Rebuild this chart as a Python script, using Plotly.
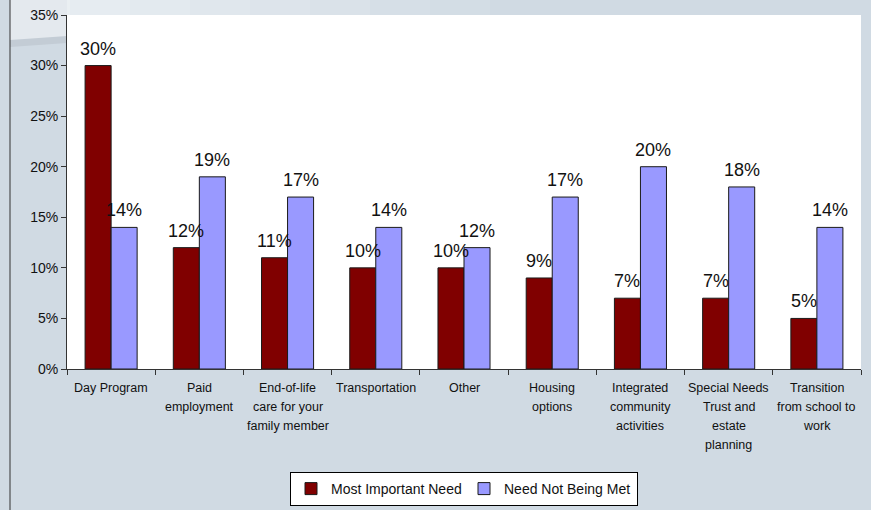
import plotly.graph_objects as go

categories = [
    "Day Program",
    "Paid<br>employment",
    "End-of-life<br>care for your<br>family member",
    "Transportation",
    "Other",
    "Housing<br>options",
    "Integrated<br>community<br>activities",
    "Special Needs<br>Trust and<br>estate<br>planning",
    "Transition<br>from school to<br>work",
]
most_important = [30, 12, 11, 10, 10, 9, 7, 7, 5]
not_being_met = [14, 19, 17, 14, 12, 17, 20, 18, 14]
y_ticks = [0, 5, 10, 15, 20, 25, 30, 35]

W, H = 871, 510
ML, MR, MT, MB = 67, 10, 15, 141
PW, PH = W - ML - MR, H - MT - MB
BARGAP = 0.41


def px_x(x):
    return (x - ML) / PW


def px_y(y):
    return (H - MB - y) / PH


series = [
    ("Most Important Need", most_important, "#800000"),
    ("Need Not Being Met", not_being_met, "#9999FF"),
]

fig = go.Figure()
for name, values, color in series:
    fig.add_trace(go.Bar(
        name=name,
        x=categories,
        y=[v / 100 for v in values],
        marker=dict(color=color, line=dict(color="#1a1a1a", width=1)),
    ))

annotations = []

# value labels above each bar, lifted a little off the bar top
slot = PW / len(categories)
bar_w = slot * (1 - BARGAP) / len(series)
for k, (name, values, color) in enumerate(series):
    shift = (k - (len(series) - 1) / 2) * bar_w
    for cat, v in zip(categories, values):
        annotations.append(dict(
            x=cat, xref="x", y=v / 100, yref="y",
            text=f"{v}%", showarrow=False,
            xanchor="center", yanchor="bottom",
            xshift=shift, yshift=5,
            font=dict(size=18, color="#111111"),
        ))

# category labels, one line at a time for wider line spacing
for cat in categories:
    for i, line in enumerate(cat.split("<br>")):
        annotations.append(dict(
            x=cat, xref="x", y=0, yref="paper",
            text=line, showarrow=False,
            xanchor="center", yanchor="middle",
            yshift=-(19 + 19 * i),
            font=dict(size=12.5, color="#111111"),
        ))

# slide-style background decorations
shapes = []
steps = 8
for i in range(steps):
    x0 = 10 + i * 60
    shapes.append(dict(
        type="rect", xref="paper", yref="paper",
        x0=px_x(x0), x1=px_x(x0 + 60),
        y0=px_y(MT), y1=px_y(0),
        fillcolor=f"rgba(238,242,245,{0.85 * (1 - i / steps):.3f})",
        line=dict(width=0), layer="below",
    ))
shapes.append(dict(
    type="rect", xref="paper", yref="paper",
    x0=px_x(10), x1=0, y0=px_y(40), y1=px_y(0),
    fillcolor="#e4e9ee", line=dict(width=0), layer="below",
))
shapes.append(dict(
    type="path", xref="paper", yref="paper",
    path=(f"M {px_x(10)},{px_y(40)} L 0,{px_y(36)} "
          f"L 0,{px_y(43)} L {px_x(10)},{px_y(47)} Z"),
    fillcolor="#c3ccd5", line=dict(width=0), layer="below",
))
shapes.append(dict(
    type="line", xref="paper", yref="paper",
    x0=px_x(10), x1=px_x(10), y0=px_y(H), y1=px_y(0),
    line=dict(color="#333333", width=1),
))

fig.update_layout(
    width=W, height=H,
    margin=dict(l=ML, r=MR, t=MT, b=MB, autoexpand=False),
    paper_bgcolor="#d0dae3",
    plot_bgcolor="#ffffff",
    font=dict(family="Liberation Sans, Arial, sans-serif", color="#111111"),
    barmode="group",
    bargap=BARGAP,
    bargroupgap=0,
    shapes=shapes,
    annotations=annotations,
    showlegend=True,
    legend=dict(
        orientation="h",
        x=0.5, xanchor="center",
        y=px_y(472), yanchor="top",
        bgcolor="#ffffff",
        bordercolor="#000000", borderwidth=1,
        font=dict(size=14, color="#111111"),
        itemwidth=30,
        entrywidth=128, entrywidthmode="pixels",
        tracegroupgap=0,
    ),
    xaxis=dict(
        showline=True, linecolor="#333333", linewidth=1,
        ticks="outside", ticklen=5, tickcolor="#333333",
        tickson="boundaries",
        showticklabels=False,
        showgrid=False,
        automargin=False,
    ),
    yaxis=dict(
        range=[0, 0.35],
        tickvals=[v / 100 for v in y_ticks],
        ticktext=[f"{v}%" for v in y_ticks],
        showline=True, linecolor="#333333", linewidth=1,
        ticks="outside", ticklen=5, tickcolor="#333333",
        tickfont=dict(size=14, color="#111111"),
        showgrid=False, zeroline=False,
        automargin=False,
    ),
)

fig.write_html("out.html")
